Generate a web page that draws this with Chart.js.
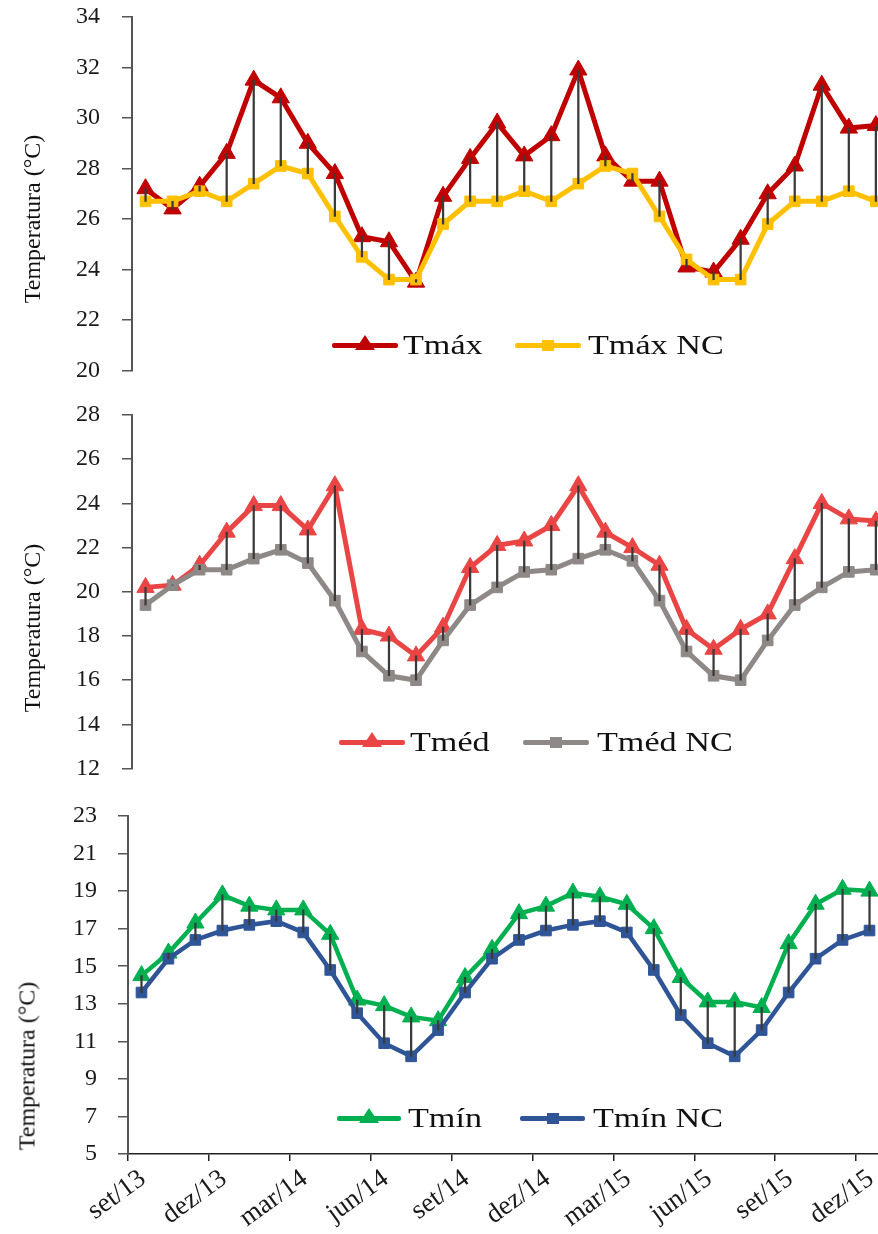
<!DOCTYPE html>
<html>
<head>
<meta charset="utf-8">
<script src="https://cdn.jsdelivr.net/npm/chart.js@4"></script>
<style>
  html, body { margin: 0; padding: 0; background: #fff; width: 878px; height: 1234px; overflow: hidden; }
  canvas { position: absolute; left: 0; }
  .ytitle {
    position: absolute; white-space: nowrap;
    font-family: 'Liberation Serif', 'Times New Roman', serif; font-size: 24px; color: #111;
    transform: translate(-50%, -50%) rotate(-90deg);
  }
  .leg { position: absolute; height: 0; }
  .sample { position: absolute; height: 5px; margin-top: -2.5px; border-radius: 2px; }
  .tri { position: absolute; left: 50%; top: 50%; width: 0; height: 0; margin-left: -10px; margin-top: -10px;
         border-left: 10px solid transparent; border-right: 10px solid transparent; border-bottom: 15px solid; }
  .sq { position: absolute; left: 50%; top: 50%; width: 12px; height: 11px; margin-left: -6px; margin-top: -5.5px; }
  .ltxt { position: absolute; top: -17px; white-space: nowrap;
          font-family: 'Liberation Serif', 'Times New Roman', serif; font-size: 28px; line-height: 34px; color: #111;
          transform: scaleX(1.22); transform-origin: left center; }
</style>
</head>
<body>
<canvas id="cMax" width="900" height="392" style="top:0px"></canvas>
<canvas id="cMed" width="900" height="398" style="top:392px"></canvas>
<canvas id="cMin" width="900" height="444" style="top:790px"></canvas>

<script>
// months, set/13 .. dez/15
const months = ['set/13','out/13','nov/13','dez/13','jan/14','fev/14','mar/14','abr/14','mai/14','jun/14','jul/14','ago/14',
                'set/14','out/14','nov/14','dez/14','jan/15','fev/15','mar/15','abr/15','mai/15','jun/15','jul/15','ago/15',
                'set/15','out/15','nov/15','dez/15'];
const monthTicks = [0, 3, 6, 9, 12, 15, 18, 21, 24, 27];

const tMax   = [27.2, 26.4, 27.3, 28.6, 31.5, 30.8, 29.0, 27.8, 25.3, 25.1, 23.5, 26.9, 28.4, 29.8,
                28.5, 29.3, 31.9, 28.5, 27.5, 27.5, 24.1, 23.9, 25.2, 27.0, 28.1, 31.3, 29.6, 29.7];
const tMaxNC = [26.7, 26.7, 27.1, 26.7, 27.4, 28.1, 27.8, 26.1, 24.5, 23.6, 23.6, 25.8, 26.7, 26.7,
                27.1, 26.7, 27.4, 28.1, 27.8, 26.1, 24.4, 23.6, 23.6, 25.8, 26.7, 26.7, 27.1, 26.7];

const tMed   = [20.2, 20.3, 21.2, 22.7, 23.9, 23.9, 22.8, 24.8, 18.3, 18.0, 17.1, 18.4, 21.1, 22.1,
                22.3, 23.0, 24.8, 22.7, 22.0, 21.2, 18.3, 17.4, 18.3, 19.0, 21.5, 24.0, 23.3, 23.2];
const tMedNC = [19.4, 20.3, 21.0, 21.0, 21.5, 21.9, 21.3, 19.6, 17.3, 16.2, 16.0, 17.8, 19.4, 20.2,
                20.9, 21.0, 21.5, 21.9, 21.4, 19.6, 17.3, 16.2, 16.0, 17.8, 19.4, 20.2, 20.9, 21.0];

const tMin   = [14.5, 15.7, 17.3, 18.8, 18.2, 18.0, 18.0, 16.7, 13.2, 12.9, 12.3, 12.1, 14.4, 15.9,
                17.8, 18.2, 18.9, 18.7, 18.3, 17.0, 14.4, 13.1, 13.1, 12.8, 16.2, 18.3, 19.1, 19.0];
const tMinNC = [13.6, 15.4, 16.4, 16.9, 17.2, 17.4, 16.8, 14.8, 12.5, 10.9, 10.2, 11.6, 13.6, 15.4,
                16.4, 16.9, 17.2, 17.4, 16.8, 14.8, 12.4, 10.9, 10.2, 11.6, 13.6, 15.4, 16.4, 16.9];

// y axis ranges: [min, max, step]
const yMaxRange = [20, 34, 2];
const yMedRange = [12, 28, 2];
const yMinRange = [5, 23, 2];

const yTitle = 'Temperatura (°C)';
const SERIF = "'Liberation Serif', 'Times New Roman', serif";
const AXIS = '#555';

// one panel = two series + the drop lines between them
function makePanel(id, p) {
  const pts = (vals) => vals.map((v, i) => ({ x: i + 0.5, y: v }));
  const drops = p.hi.map((v, i) => ({ x: i + 0.5, y: [p.lo[i], v] }));

  const lineSet = (label, vals, color, style, radius, order) => ({
    type: 'line', label, data: pts(vals), order,
    borderColor: color, backgroundColor: color, borderWidth: p.lw,
    pointStyle: style, pointRadius: radius, pointBackgroundColor: color, pointBorderColor: color,
    pointBorderWidth: 1, tension: 0, clip: false
  });

  return new Chart(document.getElementById(id), {
    type: 'line',
    data: {
      datasets: [
        { type: 'bar', label: 'drop', data: drops, order: 0,
          backgroundColor: '#3a3a3a', borderWidth: 0, barThickness: 1.6 },
        lineSet(p.names[0], p.hi, p.colors[0], 'triangle', 10, 2),
        lineSet(p.names[1], p.lo, p.colors[1], 'rect', 7.5, 1)
      ]
    },
    options: {
      responsive: false,
      animation: false,
      devicePixelRatio: 1,
      layout: { padding: p.pad, autoPadding: false },
      plugins: { legend: { display: false }, tooltip: { enabled: false } },
      scales: {
        x: {
          type: 'linear', min: 0, max: 28, offset: false,
          display: p.showX,
          grid: { display: true, drawOnChartArea: false, offset: false, drawTicks: true, tickLength: 7, color: '#222', lineWidth: 1.5 },
          border: { display: true, color: '#222', width: 1.5 },
          afterBuildTicks: (s) => { s.ticks = monthTicks.map(v => ({ value: v })); },
          afterFit: (s) => { if (p.showX) s.height = 80; s.paddingLeft = 0; s.paddingRight = 0; },
          ticks: {
            autoSkip: false, minRotation: 36, maxRotation: 36, padding: 2, labelOffset: 15,
            color: '#1a1a1a', font: { family: SERIF, size: 27 },
            callback: (v) => months[v]
          }
        },
        y: {
          min: p.range[0], max: p.range[1],
          grid: { drawOnChartArea: false, drawTicks: true, tickLength: 10, color: AXIS, lineWidth: 1.5 },
          border: { display: true, color: AXIS, width: 2 },
          afterFit: (s) => { s.width = p.left; s.paddingTop = 0; s.paddingBottom = 0; },
          ticks: { stepSize: p.range[2], padding: p.tickPad, color: '#1a1a1a', font: { family: SERIF, size: 24 } }
        }
      }
    }
  });
}

makePanel('cMax', {
  hi: tMax, lo: tMaxNC, names: ['Tmáx', 'Tmáx NC'], colors: ['#C00000', '#FFC000'],
  range: yMaxRange, left: 132, tickPad: 22, lw: 5, showX: false,
  pad: { top: 17, bottom: 21.5, left: 0, right: 10.6 }
});
makePanel('cMed', {
  hi: tMed, lo: tMedNC, names: ['Tméd', 'Tméd NC'], colors: ['#EA4545', '#8E8886'],
  range: yMedRange, left: 132, tickPad: 22, lw: 5, showX: false,
  pad: { top: 23, bottom: 21.4, left: 0, right: 10.6 }
});
makePanel('cMin', {
  hi: tMin, lo: tMinNC, names: ['Tmín', 'Tmín NC'], colors: ['#00B050', '#2F5597'],
  range: yMinRange, left: 128, tickPad: 21, lw: 4.5, showX: true,
  pad: { top: 26, bottom: 0, left: 0, right: 17 }
});

// y titles and legends (html text)
function addTitle(cx, cy) {
  const d = document.createElement('div');
  d.className = 'ytitle';
  d.textContent = yTitle;
  d.style.left = cx + 'px';
  d.style.top = cy + 'px';
  document.body.appendChild(d);
}
addTitle(32, 219);
addTitle(32, 628);
addTitle(27, 1066);

function addLegend(y, items) {
  items.forEach(it => {
    const leg = document.createElement('div');
    leg.className = 'leg';
    leg.style.top = y + 'px';
    leg.style.left = '0px';
    leg.innerHTML =
      `<div class="sample" style="left:${it.x}px;width:${it.w}px;background:${it.color}">` +
        `<div class="${it.marker}" style="${it.marker === 'tri' ? 'border-bottom-color' : 'background'}:${it.color}"></div></div>` +
      `<div class="ltxt" style="left:${it.tx}px">${it.name}</div>`;
    document.body.appendChild(leg);
  });
}
addLegend(345, [
  { x: 332, w: 66, tx: 403, name: 'Tmáx', color: '#C00000', marker: 'tri' },
  { x: 515, w: 66, tx: 588, name: 'Tmáx NC', color: '#FFC000', marker: 'sq' }
]);
addLegend(742, [
  { x: 339, w: 66, tx: 410, name: 'Tméd', color: '#EA4545', marker: 'tri' },
  { x: 523, w: 66, tx: 597, name: 'Tméd NC', color: '#8E8886', marker: 'sq' }
]);
addLegend(1118, [
  { x: 337, w: 64, tx: 408, name: 'Tmín', color: '#00B050', marker: 'tri' },
  { x: 520, w: 65, tx: 593, name: 'Tmín NC', color: '#2F5597', marker: 'sq' }
]);
</script>
</body>
</html>
